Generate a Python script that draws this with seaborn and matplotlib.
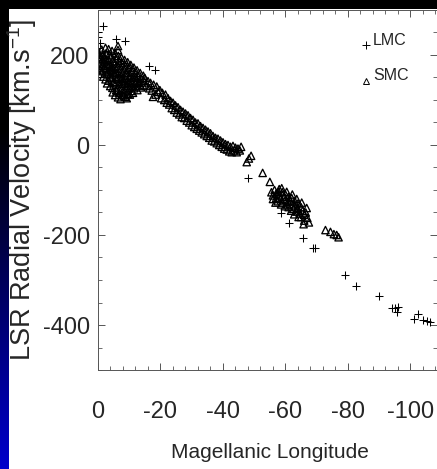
import numpy as np
import pandas as pd
import matplotlib.pyplot as plt
import seaborn as sns
from matplotlib import font_manager
from matplotlib.ticker import MultipleLocator

# SMC points (Magellanic longitude, LSR velocity)
smc_points = [
    # dense clump near the SMC
    (-0.3, 205), (-0.5, 192), (-0.4, 180), (-0.6, 168), (-0.3, 158),
    (-1.2, 212), (-1.5, 200), (-1.3, 188), (-1.6, 176), (-1.4, 164), (-1.7, 152),
    (-2.4, 216), (-2.6, 204), (-2.3, 193), (-2.7, 181), (-2.5, 170), (-2.8, 158), (-2.4, 146), (-2.9, 137),
    (-3.4, 213), (-3.6, 201), (-3.3, 190), (-3.7, 178), (-3.5, 166), (-3.8, 155), (-3.4, 143), (-3.9, 131),
    (-4.5, 209), (-4.3, 197), (-4.7, 186), (-4.4, 174), (-4.8, 162), (-4.5, 150), (-4.9, 139), (-4.6, 127), (-4.7, 117),
    (-5.5, 204), (-5.7, 192), (-5.4, 181), (-5.8, 169), (-5.5, 157), (-5.9, 146), (-5.6, 134), (-5.8, 122), (-5.5, 111),
    (-6.4, 211), (-6.5, 198), (-6.7, 187), (-6.4, 175), (-6.8, 163), (-6.5, 151), (-6.9, 140), (-6.6, 128), (-6.8, 116), (-6.4, 106),
    (-7.5, 194), (-7.7, 182), (-7.4, 170), (-7.8, 159), (-7.5, 147), (-7.9, 136), (-7.6, 124), (-7.7, 112),
    (-8.5, 189), (-8.7, 177), (-8.4, 166), (-8.8, 154), (-8.5, 142), (-8.9, 131), (-8.6, 119), (-8.8, 107),
    (-9.5, 184), (-9.7, 172), (-9.4, 161), (-9.8, 149), (-9.5, 137), (-9.9, 126), (-9.6, 114),
    (-10.5, 178), (-10.7, 166), (-10.4, 155), (-10.8, 143), (-10.5, 132), (-10.9, 120),
    (-11.5, 172), (-11.7, 160), (-11.4, 149), (-11.8, 137), (-11.5, 126), (-11.2, 116),
    (-12.5, 166), (-12.7, 154), (-12.4, 143), (-12.8, 132), (-12.6, 122),
    (-13.5, 160), (-13.7, 148), (-13.4, 138), (-13.8, 128),
    (-14.5, 154), (-14.7, 143), (-14.4, 133),
    (-1.0, 184), (-2.0, 172), (-3.0, 162), (-4.0, 150), (-5.0, 140), (-6.0, 120), (-7.2, 102),
    (-8.2, 110), (-9.2, 104), (-10.2, 112), (-6.4, 220),
    (-1.0, 196), (-2.0, 186), (-3.0, 176), (-4.0, 166), (-5.0, 172), (-6.0, 160), (-7.0, 150),
    (-8.0, 144), (-9.0, 160), (-10.0, 138), (-11.0, 130), (-12.0, 150), (-13.0, 140),
    # bridge band
    (-15.0, 149), (-15.4, 131), (-16.0, 142), (-16.4, 126), (-16.8, 138),
    (-17.2, 121), (-17.6, 107), (-17.8, 134), (-18.4, 112), (-18.8, 130), (-19.2, 118),
    (-19.8, 122), (-20.2, 104), (-20.6, 116), (-21.2, 100), (-21.6, 112), (-22.0, 94),
    (-22.4, 104), (-22.8, 90), (-23.2, 98), (-23.6, 82), (-24.0, 94), (-24.4, 78), (-24.8, 88),
    (-25.2, 72), (-25.6, 84), (-26.0, 68), (-26.4, 78), (-26.8, 62), (-27.2, 74), (-27.6, 60), (-28.0, 70),
    (-28.4, 54), (-28.8, 66), (-29.2, 50), (-29.6, 60), (-30.0, 44), (-30.4, 56), (-30.8, 40), (-31.2, 50),
    (-31.6, 36), (-32.0, 48), (-32.4, 32), (-32.8, 42), (-33.2, 28), (-33.6, 38), (-34.0, 24), (-34.4, 34),
    (-34.8, 20), (-35.2, 30), (-35.6, 16), (-36.0, 26), (-36.4, 10), (-36.8, 20), (-37.2, 8), (-37.6, 16),
    (-38.0, 4), (-38.4, 14), (-38.8, 0), (-39.2, 10), (-39.6, -4), (-40.0, 6), (-40.4, -8), (-40.8, 2),
    (-41.2, -10), (-41.6, 0), (-42.0, -14), (-42.4, -4), (-42.8, -16), (-43.2, -2), (-43.6, -12),
    (-44.0, -6), (-44.4, -16), (-44.8, -8), (-45.4, -12), (-45.8, -4),
    (-47.6, -38), (-48.3, -30), (-49, -24), (-52.7, -62), (-55, -82),
    # clump near -60
    (-55.5, -105), (-56, -112), (-56, -120), (-56.5, -100), (-57, -108), (-57, -118), (-57.5, -125),
    (-58, -98), (-58, -112), (-58.5, -120), (-59, -105), (-59, -128), (-59.5, -115), (-60, -110),
    (-60, -122), (-60.5, -132), (-61, -115), (-61, -138), (-61.5, -125), (-62, -118), (-62, -132),
    (-62.5, -142), (-63, -125), (-63, -136), (-63.5, -148), (-64, -130), (-64, -142), (-64.5, -152),
    (-65, -138), (-65, -160), (-65.5, -146), (-66, -155), (-66, -168), (-66.5, -150), (-67, -162),
    (-67.5, -172), (-66.8, -140), (-57.8, -104), (-60.8, -126), (-63.8, -140),
    (-56.8, -128), (-58.6, -132), (-59.8, -136), (-61.8, -146), (-62.8, -154), (-64.2, -160),
    (-65.8, -176), (-58.8, -96), (-60.4, -104), (-62.2, -110), (-63.6, -120), (-65.2, -128),
    (-72.8, -189), (-74.4, -193), (-75.5, -198), (-76.4, -200), (-77, -205),
]

lmc_points = [
    (-0.1, 250), (-0.1, 239), (-0.6, 227), (-0.1, 216), (-1.7, 264), (-0.3, 205),
    (-5.7, 235), (-8.6, 231), (-16.3, 176), (-18.2, 167),
    (-47.9, -73), (-58.5, -151), (-61, -173), (-65.5, -207), (-68.7, -229), (-69.6, -229),
    (-79, -289), (-82.7, -313), (-89.8, -336), (-94, -362), (-95, -362), (-95.8, -371), (-96, -360),
    (-101, -387), (-102.5, -376), (-104, -389), (-105.4, -391), (-106.4, -393),
]

smc_lon, smc_vel = zip(*smc_points)
lmc_lon, lmc_vel = zip(*lmc_points)
x_ticks = [0, -20, -40, -60, -80, -100]
y_ticks = [-400, -200, 0, 200]

sns.set_style("ticks")
plt.rcParams['font.family'] = ['Liberation Sans', 'DejaVu Sans']
plt.rcParams['axes.unicode_minus'] = False

# the slide uses a condensed Helvetica for the numbers
names = {f.name for f in font_manager.fontManager.ttflist}
if 'Liberation Sans Narrow' in names:
    narrow = ['Liberation Sans Narrow', 'DejaVu Sans']
    tick_size, leg_size = 19, 12.5
else:
    narrow = ['Liberation Sans', 'DejaVu Sans']
    tick_size, leg_size = 17, 11.5

fig = plt.figure(figsize=(4.37, 4.69), dpi=100)
fig.patch.set_facecolor('white')

# slide background: black strip on top, black-to-blue strip on the left
side = np.zeros((469, 9, 3))
ramp = np.clip((np.arange(469) - 130) / 339.0, 0, 1)
side[:, :, 2] = (ramp * 0.8)[:, None]
fig.figimage(side, xo=0, yo=0, origin='upper', zorder=0)
fig.figimage(np.zeros((9, 437, 3)), xo=0, yo=460, origin='upper', zorder=0)

ax = fig.add_axes([98 / 437, 99 / 469, 339 / 437, 360 / 469])

sns.scatterplot(x=list(smc_lon), y=list(smc_vel), marker='^', s=28, facecolor='none',
                edgecolor='black', linewidth=0.95, ax=ax)
sns.scatterplot(x=list(lmc_lon), y=list(lmc_vel), marker='+', s=36, color='black',
                linewidth=0.75, ax=ax)

ax.set_xlim(0, -108.5)
ax.set_ylim(-500, 300)
ax.set_xticks(x_ticks)
ax.set_yticks(y_ticks)
ax.xaxis.set_minor_locator(MultipleLocator(4))
ax.yaxis.set_minor_locator(MultipleLocator(50))
ax.tick_params(which='both', direction='in', top=True, right=True, color='#555555',
               labelsize=tick_size, labelfontfamily=narrow)
ax.tick_params(which='major', length=5, width=0.7)
ax.tick_params(which='minor', length=3, width=0.6)
ax.tick_params(axis='x', pad=22)
ax.tick_params(axis='y', pad=6)
for sp in ax.spines.values():
    sp.set_color('#555555')
    sp.set_linewidth(0.7)
ax.set_xlabel('')
ax.set_ylabel('')

# legend drawn by hand, like the original
ax.plot([0.79], [0.903], marker='+', color='black', ms=6, mew=0.7, transform=ax.transAxes)
ax.plot([0.79], [0.803], marker='^', mfc='none', mec='black', ms=4.5, mew=0.7,
        transform=ax.transAxes)
ax.text(0.811, 0.914, 'LMC', transform=ax.transAxes, ha='left', va='center',
        fontsize=leg_size, family=narrow)
ax.text(0.811, 0.817, 'SMC', transform=ax.transAxes, ha='left', va='center',
        fontsize=leg_size, family=narrow)

fig.text(22 / 437, 1 - 190 / 469, r'LSR Radial Velocity [km.s$^{\mathregular{-1}}$]',
         rotation=90, ha='center', va='center', fontsize=19.5)
fig.text(270 / 437, 1 - 452 / 469, 'Magellanic Longitude', ha='center', va='center',
         fontsize=15)

fig.savefig('out.png', dpi=100)
